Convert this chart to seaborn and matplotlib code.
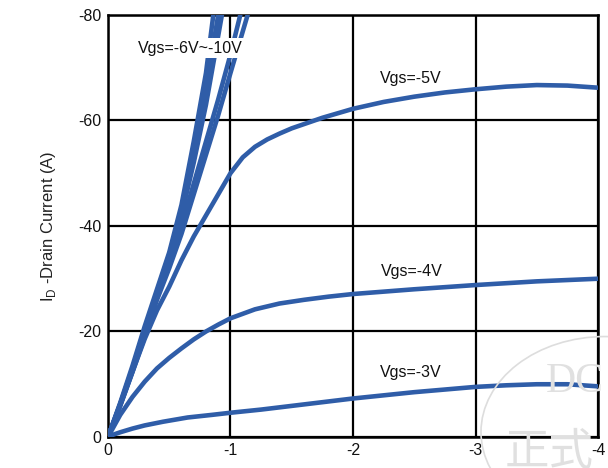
import numpy as np
import pandas as pd
import matplotlib
matplotlib.use("Agg")
import matplotlib.pyplot as plt
import seaborn as sns
from matplotlib.patches import Circle

# ---- data (V_DS in V, I_D in A; both negative) ----
vgs10_v = [0, -0.1, -0.2, -0.3, -0.4, -0.5, -0.6, -0.7, -0.8, -0.86]
vgs10_i = [0, -6.5, -13.5, -21, -28, -35, -44, -56, -69, -80]
vgs9_v = [0, -0.1, -0.2, -0.3, -0.4, -0.5, -0.6, -0.7, -0.8, -0.9]
vgs9_i = [0, -6.3, -13, -20.5, -27.5, -34.5, -43, -54, -66, -80]
vgs8_v = [0, -0.1, -0.2, -0.3, -0.4, -0.5, -0.6, -0.7, -0.8, -0.93]
vgs8_i = [0, -6.2, -12.8, -20, -27, -34, -42, -52, -63, -80]
vgs7_v = [0, -0.1, -0.2, -0.3, -0.4, -0.5, -0.6, -0.7, -0.8, -0.9, -1.0, -1.08]
vgs7_i = [0, -6.0, -12.5, -19.5, -26.5, -33, -40, -48, -56, -64, -72.5, -80]
vgs6_v = [0, -0.1, -0.2, -0.3, -0.4, -0.5, -0.6, -0.7, -0.8, -0.9, -1.0, -1.14]
vgs6_i = [0, -5.9, -12.3, -19, -26, -32, -38.5, -46, -53.5, -61, -69, -80]
vgs5_v = [0, -0.1, -0.2, -0.3, -0.4, -0.5, -0.6, -0.7, -0.8, -0.9, -1.0, -1.1, -1.2,
          -1.3, -1.4, -1.5, -1.75, -2.0, -2.25, -2.5, -2.75, -3.0, -3.25, -3.5, -3.75, -4.0]
vgs5_i = [0, -6.1, -12.4, -18.6, -24, -28.5, -33.5, -38, -42, -46, -50, -53, -55,
          -56.4, -57.5, -58.5, -60.5, -62.2, -63.5, -64.5, -65.3, -65.9, -66.4, -66.7, -66.6, -66.2]
vgs4_v = [0, -0.1, -0.2, -0.3, -0.4, -0.5, -0.6, -0.7, -0.8, -0.9, -1.0, -1.2, -1.4,
          -1.6, -1.8, -2.0, -2.5, -3.0, -3.5, -4.0]
vgs4_i = [0, -4.2, -7.6, -10.5, -13, -15, -16.8, -18.5, -20, -21.3, -22.5, -24.2, -25.3,
          -26.0, -26.6, -27.1, -28.0, -28.8, -29.5, -30.0]
vgs3_v = [0, -0.05, -0.1, -0.2, -0.3, -0.45, -0.65, -0.85, -1.0, -1.25, -1.5, -1.75, -2.0,
          -2.25, -2.5, -2.75, -3.0, -3.25, -3.5, -3.75, -4.0]
vgs3_i = [0, -0.5, -0.9, -1.6, -2.2, -2.9, -3.7, -4.2, -4.6, -5.2, -5.9, -6.6, -7.3,
          -7.9, -8.5, -9.0, -9.5, -9.8, -10.0, -10.0, -9.6]

curve_names = ["Vgs=-10V", "Vgs=-9V", "Vgs=-8V", "Vgs=-7V", "Vgs=-6V",
               "Vgs=-5V", "Vgs=-4V", "Vgs=-3V"]
curve_v = [vgs10_v, vgs9_v, vgs8_v, vgs7_v, vgs6_v, vgs5_v, vgs4_v, vgs3_v]
curve_i = [vgs10_i, vgs9_i, vgs8_i, vgs7_i, vgs6_i, vgs5_i, vgs4_i, vgs3_i]

x_ticks = [0, -1, -2, -3, -4]
x_tick_labels = ["0", "-1", "-2", "-3", "-4"]
y_ticks = [0, -20, -40, -60, -80]
y_tick_labels = ["0", "-20", "-40", "-60", "-80"]

labels_text = ["Vgs=-6V~-10V", "Vgs=-5V", "Vgs=-4V", "Vgs=-3V"]
labels_x = [-0.67, -2.47, -2.48, -2.47]
labels_y = [-73.7, -68.0, -31.3, -12.3]

rows = []
for name, vs, is_ in zip(curve_names, curve_v, curve_i):
    for v, i in zip(vs, is_):
        rows.append({"V": v, "I": i, "curve": name})
df = pd.DataFrame(rows)

# ---- style ----
sns.set_style("white")
plt.rcParams["font.family"] = ["Liberation Sans", "DejaVu Sans"]
plt.rcParams["axes.unicode_minus"] = False
plt.rcParams["mathtext.fontset"] = "custom"
plt.rcParams["mathtext.rm"] = "Liberation Sans"

blue = "#2F5DA8"

fig = plt.figure(figsize=(6.08, 4.68), dpi=100)
ax = fig.add_axes([0.1776, 0.0662, 0.8060, 0.9020])

sns.lineplot(data=df, x="V", y="I", hue="curve", units="curve",
             estimator=None, sort=False,
             palette={n: blue for n in curve_names}, legend=False,
             linewidth=3.3, ax=ax, zorder=3)
for ln in ax.get_lines():
    ln.set_solid_joinstyle("round")
    ln.set_solid_capstyle("round")

ax.set_xlim(0, -4)
ax.set_ylim(0, -80)
ax.set_xticks(x_ticks)
ax.set_xticklabels(x_tick_labels)
ax.set_yticks(y_ticks)
ax.set_yticklabels(y_tick_labels)
ax.tick_params(axis="both", length=0, labelsize=11.5, colors="#111111", pad=5)
ax.tick_params(axis="x", pad=4)
ax.grid(True, color="black", linewidth=1.6, zorder=1)
ax.set_axisbelow(True)
for s in ax.spines.values():
    s.set_color("black")
    s.set_linewidth(1.8)

ax.set_xlabel("")
ax.set_ylabel(r"I$_{\mathrm{D}}$ -Drain Current (A)", fontsize=12, color="#222222", labelpad=14)

for k, (t, x, y) in enumerate(zip(labels_text, labels_x, labels_y)):
    kw = {}
    if k == 0:
        kw["bbox"] = dict(facecolor="white", edgecolor="none", pad=2)
    ax.text(x, y, t, ha="center", va="center", fontsize=11.5, color="#111111",
            zorder=5, **kw)

# faint watermark
circ = Circle((605 / 608, 1 - 432 / 468), 124 / 608, transform=fig.transFigure,
              fill=False, edgecolor="#dddddd", linewidth=1.2, zorder=0.5)
fig.patches.append(circ)
fig.text(546 / 608, 1 - 382 / 468, "DC", fontsize=30, color="#e0e0e0",
         family=["Liberation Serif", "DejaVu Serif"], va="center", ha="left", zorder=0.6)
fig.text(505 / 608, 1 - 452 / 468, "正式", fontsize=32, color="#e0e0e0",
         family=["Noto Sans CJK SC", "DejaVu Sans"], va="center", ha="left", zorder=0.6)

fig.savefig("out.png", dpi=100)
